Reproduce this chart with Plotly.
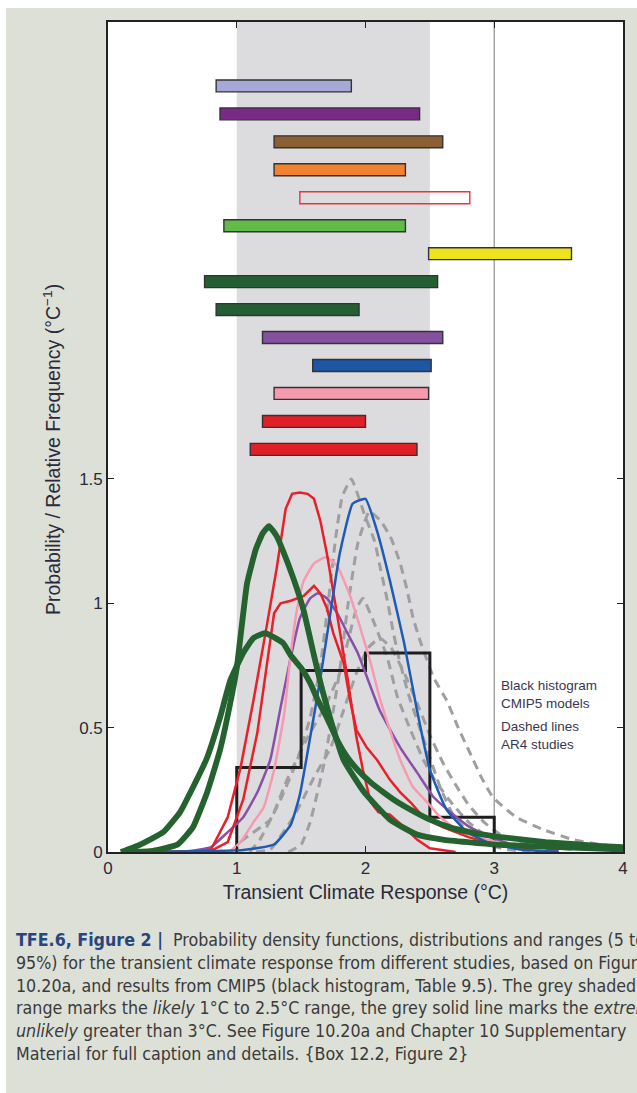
import plotly.graph_objects as go

# ---------------- data ----------------
# range bars (5-95 %), top to bottom
bar_lo = [0.84, 0.87, 1.29, 1.29, 1.49, 0.90, 2.49, 0.75, 0.84, 1.20, 1.59, 1.29, 1.20, 1.105]
bar_hi = [1.89, 2.42, 2.60, 2.31, 2.81, 2.31, 3.60, 2.56, 1.95, 2.60, 2.51, 2.49, 2.00, 2.40]
bar_colors = ["#a6a9d7", "#782a87", "#8b5e34", "#f28230", "rgba(0,0,0,0)", "#62bb47", "#ece51d",
              "#245f33", "#245f33", "#8451a1", "#1c56a7", "#f59bad", "#e11f27", "#e11f27"]
bar_edge = ["#333333"] * 4 + ["#e8343c"] + ["#333333"] * 9

# CMIP5 histogram (bin edges, relative frequency)
hist_edges = [1.0, 1.5, 2.0, 2.5, 3.0]
hist_freq = [0.34, 0.73, 0.80, 0.14]

likely_range = [1.0, 2.5]
extremely_unlikely_above = 3.0

# PDFs
green_b_x = [0.10, 0.25, 0.43, 0.56, 0.66, 0.77, 0.87, 0.95, 1.05, 1.13, 1.22, 1.30, 1.36, 1.42, 1.50, 1.57, 1.63,
             1.70, 1.78, 1.86, 1.94, 2.04, 2.14, 2.25, 2.35, 2.50, 2.65, 2.81, 3.05, 3.40, 3.80, 4.00]
green_b_y = [0.00, 0.03, 0.08, 0.16, 0.26, 0.38, 0.54, 0.69, 0.80, 0.86, 0.88, 0.86, 0.84, 0.79, 0.74, 0.68, 0.61,
             0.54, 0.45, 0.38, 0.33, 0.28, 0.24, 0.20, 0.17, 0.13, 0.10, 0.08, 0.06, 0.04, 0.025, 0.02]
green_a_x = [0.15, 0.35, 0.54, 0.66, 0.77, 0.87, 0.95, 1.00, 1.08, 1.15, 1.20, 1.25, 1.31, 1.36, 1.44, 1.52, 1.60,
             1.66, 1.73, 1.83, 1.99, 2.19, 2.40, 2.60, 3.00, 3.50, 4.00]
green_a_y = [0.00, 0.005, 0.03, 0.10, 0.24, 0.41, 0.60, 0.74, 1.08, 1.22, 1.28, 1.31, 1.27, 1.21, 1.10, 0.97, 0.79,
             0.66, 0.53, 0.37, 0.24, 0.13, 0.07, 0.05, 0.03, 0.02, 0.01]
red1_x = [0.30, 0.70, 0.80, 0.93, 1.03, 1.13, 1.23, 1.31, 1.38, 1.43, 1.49, 1.55, 1.60, 1.65, 1.70, 1.75, 1.80,
          1.86, 1.93, 1.98, 2.04, 2.10, 2.19, 2.30, 2.40, 2.50, 2.70]
red1_y = [0.00, 0.00, 0.01, 0.14, 0.34, 0.61, 0.90, 1.14, 1.38, 1.44, 1.445, 1.44, 1.42, 1.33, 1.20, 1.05, 0.89,
          0.70, 0.46, 0.33, 0.20, 0.16, 0.15, 0.10, 0.05, 0.015, 0.00]
red2_x = [0.30, 0.80, 0.93, 1.05, 1.16, 1.24, 1.29, 1.34, 1.42, 1.52, 1.60, 1.65, 1.70, 1.75, 1.83, 1.88, 1.93,
          2.01, 2.09, 2.19, 2.27, 2.35, 2.45, 2.60, 2.80, 3.00, 3.30]
red2_y = [0.00, 0.005, 0.04, 0.21, 0.48, 0.78, 0.96, 1.00, 1.01, 1.03, 1.07, 1.04, 0.98, 0.88, 0.76, 0.61, 0.49,
          0.42, 0.37, 0.29, 0.24, 0.20, 0.14, 0.10, 0.06, 0.03, 0.01]
pink_x = [0.50, 0.95, 1.03, 1.13, 1.21, 1.29, 1.37, 1.42, 1.47, 1.52, 1.60, 1.69, 1.78, 1.88, 1.96, 2.04, 2.11,
          2.19, 2.27, 2.37, 2.48, 2.58, 2.71, 2.87, 3.10, 3.40]
pink_y = [0.00, 0.005, 0.04, 0.12, 0.18, 0.33, 0.56, 0.80, 0.98, 1.09, 1.16, 1.185, 1.15, 1.03, 0.90, 0.76, 0.62,
          0.49, 0.37, 0.26, 0.20, 0.14, 0.09, 0.06, 0.03, 0.01]
purple_x = [0.10, 0.60, 0.80, 0.93, 1.05, 1.16, 1.26, 1.34, 1.41, 1.49, 1.57, 1.63, 1.70, 1.78, 1.86, 1.94, 2.11,
            2.27, 2.40, 2.53, 2.66, 2.81, 2.97, 3.20, 3.50]
purple_y = [0.00, 0.002, 0.02, 0.08, 0.14, 0.24, 0.37, 0.58, 0.76, 0.94, 1.02, 1.04, 1.02, 0.96, 0.88, 0.80, 0.57,
            0.42, 0.32, 0.22, 0.16, 0.10, 0.06, 0.02, 0.005]
blue_x = [0.15, 1.05, 1.29, 1.42, 1.49, 1.57, 1.65, 1.73, 1.80, 1.90, 2.00, 2.09, 2.19, 2.30, 2.40, 2.50, 2.63,
          2.79, 2.97, 3.20, 3.50]
blue_y = [0.00, 0.008, 0.03, 0.11, 0.23, 0.46, 0.70, 0.97, 1.20, 1.40, 1.42, 1.29, 1.09, 0.84, 0.57, 0.33, 0.17,
          0.08, 0.035, 0.01, 0.00]
# AR4 studies (dashed)
ar4_1_x = [1.10, 1.18, 1.34, 1.47, 1.57, 1.65, 1.71, 1.77, 1.82, 1.89, 1.99, 2.07, 2.12, 2.17, 2.21, 2.25, 2.33,
           2.42, 2.50, 2.58, 2.68, 2.80, 2.95, 3.10, 3.30]
ar4_1_y = [0.00, 0.05, 0.21, 0.37, 0.54, 0.75, 1.00, 1.27, 1.43, 1.50, 1.36, 1.25, 1.13, 1.01, 0.90, 0.80, 0.64,
           0.50, 0.38, 0.26, 0.15, 0.08, 0.03, 0.01, 0.00]
ar4_2_x = [1.40, 1.50, 1.57, 1.68, 1.75, 1.80, 1.86, 1.94, 2.03, 2.12, 2.20, 2.27, 2.32, 2.37, 2.43, 2.53, 2.63,
           2.72, 2.81, 2.90, 2.99, 3.17, 3.38, 3.61, 3.82, 4.00]
ar4_2_y = [0.00, 0.03, 0.12, 0.36, 0.57, 0.73, 0.98, 1.24, 1.37, 1.33, 1.26, 1.16, 1.06, 0.94, 0.84, 0.70, 0.61,
           0.50, 0.40, 0.30, 0.22, 0.14, 0.09, 0.05, 0.03, 0.02]
ar4_3_x = [0.95, 1.05, 1.26, 1.39, 1.55, 1.70, 1.80, 1.87, 1.93, 1.98, 2.06, 2.17, 2.25, 2.35, 2.45, 2.55, 2.68,
           2.80, 2.95, 3.10, 3.30]
ar4_3_y = [0.00, 0.05, 0.13, 0.29, 0.46, 0.60, 0.72, 0.86, 0.98, 1.02, 0.93, 0.78, 0.62, 0.49, 0.37, 0.28, 0.19,
           0.12, 0.06, 0.03, 0.01]
ar4_4_x = [1.15, 1.26, 1.44, 1.60, 1.73, 1.83, 1.93, 2.02, 2.11, 2.20, 2.30, 2.40, 2.50, 2.60, 2.70, 2.80, 2.92,
           3.05, 3.20, 3.40, 3.60]
ar4_4_y = [0.00, 0.01, 0.14, 0.30, 0.42, 0.57, 0.72, 0.82, 0.86, 0.82, 0.72, 0.60, 0.47, 0.36, 0.27, 0.19, 0.12,
           0.07, 0.04, 0.02, 0.01]

x_ticks = [0, 1, 2, 3, 4]
y_ticks = [0, 0.5, 1, 1.5]
y_tick_text = ["0", "0.5", "1", "1.5"]

caption_lines = [
    "<b style='color:#27467f'>TFE.6, Figure 2 |</b>  Probability density functions, distributions and ranges (5 to",
    "95%) for the transient climate response from different studies, based on Figure",
    "10.20a, and results from CMIP5 (black histogram, Table 9.5). The grey shaded",
    "range marks the <i>likely</i> 1°C to 2.5°C range, the grey solid line marks the <i>extremely</i>",
    "<i>unlikely</i> greater than 3°C. See Figure 10.20a and Chapter 10 Supplementary",
    "Material for full caption and details. {Box 12.2, Figure 2}",
]

# ---------------- layout geometry ----------------
W, H = 637, 1093
ML, MR, MT, MB = 108, 14, 22, 241
PW, PH = W - ML - MR, H - MT - MB
Y_MAX = 3.337
PANEL = "#dde0d7"
TXT = "#2a2a3c"


def px_x(px):
    return (px - ML) / PW


def px_y(py):
    return (H - MB - py) / PH


fig = go.Figure()

# AR4 dashed
for xs, ys in [(ar4_3_x, ar4_3_y), (ar4_4_x, ar4_4_y), (ar4_2_x, ar4_2_y), (ar4_1_x, ar4_1_y)]:
    fig.add_trace(go.Scatter(x=xs, y=ys, mode="lines",
                             line=dict(color="#9f9f9f", width=3, dash="9px,6px", shape="spline", smoothing=0.4),
                             hoverinfo="skip", showlegend=False))

# histogram (step outline)
hx = [hist_edges[0]]
hy = [0]
for i, f in enumerate(hist_freq):
    hx += [hist_edges[i], hist_edges[i + 1]]
    hy += [f, f]
hx.append(hist_edges[-1])
hy.append(0)
fig.add_trace(go.Scatter(x=hx, y=hy, mode="lines", line=dict(color="#1e1e1e", width=3),
                         hoverinfo="skip", showlegend=False))

colored = [
    (purple_x, purple_y, "#8a4fa6", 2.5, "spline"),
    (pink_x, pink_y, "#f59ab0", 2.5, "spline"),
    (red2_x, red2_y, "#e8202a", 2.5, "linear"),
    (red1_x, red1_y, "#e8202a", 2.5, "linear"),
    (blue_x, blue_y, "#1f5bb6", 2.5, "spline"),
    (green_b_x, green_b_y, "#24622f", 5.8, "spline"),
    (green_a_x, green_a_y, "#24622f", 5.8, "spline"),
]
for xs, ys, c, w, shp in colored:
    ln = dict(color=c, width=w, shape=shp)
    if shp == "spline":
        ln["smoothing"] = 0.4
    fig.add_trace(go.Scatter(x=xs, y=ys, mode="lines", line=ln, hoverinfo="skip", showlegend=False))

# range bars
n = len(bar_lo)
row_top, row_step, row_h = 3.08, 0.1124, 0.048
bar_y = [row_top - i * row_step for i in range(n)]
fig.add_trace(go.Bar(
    y=bar_y, x=[h - l for l, h in zip(bar_lo, bar_hi)], base=bar_lo, orientation="h", width=row_h,
    marker=dict(color=bar_colors, line=dict(color=bar_edge, width=1.4)),
    hoverinfo="skip", showlegend=False))

shapes = [
    dict(type="rect", xref="x", yref="paper", x0=likely_range[0], x1=likely_range[1], y0=0, y1=1,
         fillcolor="#dcdcdf", line=dict(width=0), layer="below"),
    dict(type="line", xref="x", yref="paper", x0=extremely_unlikely_above, x1=extremely_unlikely_above,
         y0=0, y1=1, line=dict(color="#a5a5a5", width=1.5), layer="below"),
    # white strips outside the tinted panel
    dict(type="rect", xref="paper", yref="paper", x0=px_x(0), x1=px_x(6), y0=px_y(H), y1=px_y(0),
         fillcolor="white", line=dict(width=0), layer="above"),
    dict(type="rect", xref="paper", yref="paper", x0=px_x(0), x1=px_x(W), y0=px_y(8), y1=px_y(0),
         fillcolor="white", line=dict(width=0), layer="above"),
]

note_font = dict(family="Liberation Sans, Arial, sans-serif", size=13.5, color="#3a3650")
title_font = dict(family="Liberation Sans, Arial, sans-serif", size=19.5, color=TXT)
annotations = [
    dict(x=3.04, y=0.635, xref="x", yref="y", xanchor="left", yanchor="middle", align="left",
         text="Black histogram<br>CMIP5 models", showarrow=False, font=note_font),
    dict(x=3.04, y=0.47, xref="x", yref="y", xanchor="left", yanchor="middle", align="left",
         text="Dashed lines<br>AR4 studies", showarrow=False, font=note_font),
    dict(x=px_x(52), y=px_y(450), xref="paper", yref="paper", xanchor="center", yanchor="middle",
         textangle=-90, text="Probability / Relative Frequency (°C<sup>−1</sup>)", showarrow=False,
         font=title_font),
]
cap_y0, cap_dy = 940, 22.8
for i, line in enumerate(caption_lines):
    annotations.append(dict(
        x=px_x(14), y=px_y(cap_y0 + i * cap_dy), xref="paper", yref="paper", xanchor="left", yanchor="middle",
        text=line, showarrow=False, align="left",
        font=dict(family="DejaVu Sans Condensed, Liberation Sans Narrow, Arial Narrow, sans-serif",
                  size=17.7, color="#3a3a3a")))

axis_common = dict(showline=True, linecolor="#222222", linewidth=1.6, mirror="ticks", ticks="inside",
                   ticklen=6, tickwidth=1.4, tickcolor="#222222", showgrid=False, zeroline=False,
                   tickfont=dict(family="Liberation Sans, Arial, sans-serif", size=17, color=TXT))

fig.update_layout(
    width=W, height=H, margin=dict(l=ML, r=MR, t=MT, b=MB, autoexpand=False),
    paper_bgcolor=PANEL, plot_bgcolor="white", showlegend=False, barmode="overlay",
    xaxis=dict(range=[0, 4], tickvals=x_ticks, ticktext=[str(v) for v in x_ticks],
               title=dict(text="Transient Climate Response (°C)", standoff=8, font=title_font),
               **axis_common),
    yaxis=dict(range=[0, Y_MAX], tickvals=y_ticks, ticktext=y_tick_text, **axis_common),
    shapes=shapes, annotations=annotations,
)

fig.write_html("out.html", config={"displayModeBar": False},
               post_script="document.body.style.margin='0';document.body.style.overflow='hidden';")
